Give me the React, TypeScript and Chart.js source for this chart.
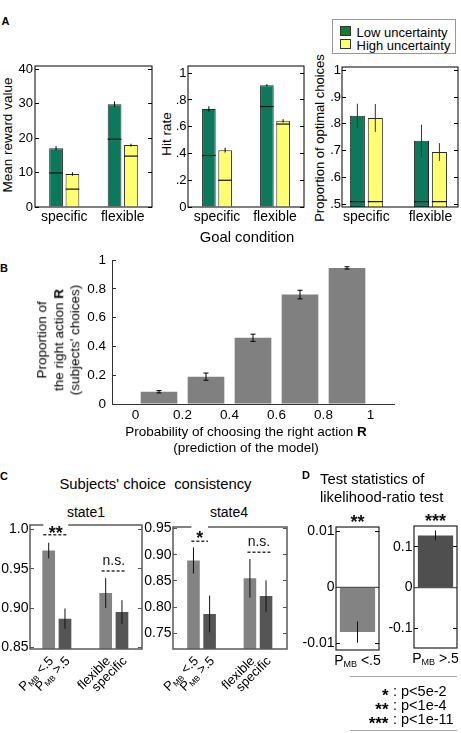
import React, { useEffect, useRef } from "react";
import { Chart, registerables } from "chart.js";

Chart.register(...registerables);

const FONT = '"Liberation Sans", Arial, Helvetica, sans-serif';

// ---------- A: performance by goal condition ----------
const goalConditions = ["specific", "flexible"];
const goalX = [1, 2];

const rewardLow = [17.1, 29.9];
const rewardHigh = [9.6, 18.0];
const rewardLowErr = [0.6, 0.8];
const rewardHighErr = [0.5, 0.4];
const rewardLowBase = [9.9, 19.7];
const rewardHighBase = [5.2, 14.8];
const rewardTicks = [0, 10, 20, 30, 40];
const rewardTickLabels = ["0", "10", "20", "30", "40"];

const hitLow = [0.733, 0.91];
const hitHigh = [0.425, 0.644];
const hitLowErr = [0.02, 0.008];
const hitHighErr = [0.018, 0.012];
const hitLowBase = [0.385, 0.751];
const hitHighBase = [0.2, 0.62];
const hitTicks = [0, 0.2, 0.4, 0.6, 0.8, 1];
const hitTickLabels = ["0", ".2", ".4", ".6", ".8", "1"];

const optimalLow = [0.83, 0.737];
const optimalHigh = [0.822, 0.695];
const optimalLowErr = [0.045, 0.06];
const optimalHighErr = [0.052, 0.033];
const optimalLowBase = [0.51, 0.51];
const optimalHighBase = [0.51, 0.51];
const optimalTicks = [0.5, 0.6, 0.7, 0.8, 0.9, 1];
const optimalTickLabels = [".5", ".6", ".7", ".8", ".9", "1"];

// ---------- B: choices vs. model prediction ----------
const modelProbBins = [0.1, 0.3, 0.5, 0.7, 0.9];
const rightChoice = [0.085, 0.19, 0.46, 0.76, 0.945];
const rightChoiceErr = [0.008, 0.025, 0.025, 0.03, 0.008];
const probTicks = [0, 0.2, 0.4, 0.6, 0.8, 1];
const probTickLabels = ["0", "0.2", "0.4", "0.6", "0.8", "1"];
const propTicks = [0, 0.2, 0.4, 0.6, 0.8, 1];
const propTickLabels = ["0", "0.2", "0.4", "0.6", "0.8", "1"];

// ---------- C: choice consistency ----------
type Seg = { t: string; sub?: boolean };
type Sig = { from: number; to: number; level: number; text: string; lift: number; bold?: boolean; clear?: boolean };

const consistencyX = [1, 2, 4.5, 5.5];
const pmbLow: Seg[] = [{ t: "P" }, { t: "MB", sub: true }, { t: " <.5" }];
const pmbHigh: Seg[] = [{ t: "P" }, { t: "MB", sub: true }, { t: " >.5" }];
const consistencyLabels: Seg[][] = [pmbLow, pmbHigh, [{ t: "flexible" }], [{ t: "specific" }]];

const state1 = [0.973, 0.8865, 0.919, 0.895];
const state1Err = [0.01, 0.013, 0.019, 0.015];
const state1Ticks = [0.85, 0.9, 0.95, 1.0];
const state1TickLabels = ["0.85", "0.90", "0.95", "1.0"];
const state1Sig: Sig[] = [
  { from: 0.67, to: 2.2, level: 0.993, text: "**", lift: -3.7, bold: true, clear: true },
  { from: 4.25, to: 5.75, level: 0.947, text: "n.s.", lift: 6 },
];

const state4 = [0.889, 0.787, 0.855, 0.821];
const state4Err = [0.025, 0.035, 0.037, 0.03];
const state4Ticks = [0.75, 0.8, 0.85, 0.9, 0.95];
const state4TickLabels = ["0.75", "0.80", "0.85", "0.90", "0.95"];
const state4Sig: Sig[] = [
  { from: 0.87, to: 1.9, level: 0.926, text: "*", lift: -3, bold: true, clear: true },
  { from: 4.35, to: 5.77, level: 0.905, text: "n.s.", lift: 6 },
];

// ---------- D: likelihood-ratio test ----------
const lrtLow = [-0.008];
const lrtLowErr = [0.0019];
const lrtLowTicks = [-0.01, 0, 0.01];
const lrtLowTickLabels = ["-0.01", "0", "0.01"];
const lrtHigh = [0.128];
const lrtHighErr = [0.012];
const lrtHighTicks = [-0.1, 0, 0.1];
const lrtHighTickLabels = ["-0.1", "0", "0.1"];

const sigLegend = [
  { stars: "*", text: ": p<5e-2" },
  { stars: "**", text: ": p<1e-4" },
  { stars: "***", text: ": p<1e-11" },
];

// ---------- styles ----------
const GREEN = "#0b7a5c";
const YELLOW = "#ffff70";
const LIGHT = "#838383";
const DARK = "#555555";
const consistencyColors = [LIGHT, DARK, LIGHT, DARK];
const TICK = 4;

type Box = { l: number; t: number; r: number; b: number };

// ---------- plugins ----------
const framePlugin = (color: string, width: number) => ({
  id: "frame",
  afterDraw(chart: any) {
    const { ctx, chartArea: a } = chart;
    ctx.save();
    ctx.strokeStyle = color;
    ctx.lineWidth = width;
    ctx.strokeRect(a.left, a.top, a.right - a.left, a.bottom - a.top);
    ctx.restore();
  },
});

const errorBarPlugin = (errs: number[][], color: string, width: number, cap: number) => ({
  id: "errorBars",
  afterDatasetsDraw(chart: any) {
    const { ctx } = chart;
    const ys = chart.scales.y;
    ctx.save();
    ctx.strokeStyle = color;
    ctx.lineWidth = width;
    errs.forEach((e, d) => {
      const meta = chart.getDatasetMeta(d);
      meta.data.forEach((bar: any, i: number) => {
        const v = meta.controller.getParsed(i).y;
        const top = ys.getPixelForValue(v + e[i]);
        const bot = ys.getPixelForValue(v - e[i]);
        ctx.beginPath();
        ctx.moveTo(bar.x, top);
        ctx.lineTo(bar.x, bot);
        if (cap > 0) {
          ctx.moveTo(bar.x - cap, top);
          ctx.lineTo(bar.x + cap, top);
          ctx.moveTo(bar.x - cap, bot);
          ctx.lineTo(bar.x + cap, bot);
        }
        ctx.stroke();
      });
    });
    ctx.restore();
  },
});

// horizontal reference level drawn across each bar
const baseLinePlugin = (levels: number[][]) => ({
  id: "baseLines",
  afterDatasetsDraw(chart: any) {
    const { ctx, chartArea } = chart;
    const ys = chart.scales.y;
    ctx.save();
    ctx.strokeStyle = "#111";
    ctx.lineWidth = 1.2;
    levels.forEach((lv, d) => {
      chart.getDatasetMeta(d).data.forEach((bar: any, i: number) => {
        const y = Math.min(ys.getPixelForValue(lv[i]), chartArea.bottom - 2);
        ctx.beginPath();
        ctx.moveTo(bar.x - bar.width / 2, y);
        ctx.lineTo(bar.x + bar.width / 2, y);
        ctx.stroke();
      });
    });
    ctx.restore();
  },
});

const zeroLinePlugin = (color: string) => ({
  id: "zeroLine",
  afterDatasetsDraw(chart: any) {
    const { ctx, chartArea: a } = chart;
    const y = chart.scales.y.getPixelForValue(0);
    ctx.save();
    ctx.strokeStyle = color;
    ctx.lineWidth = 1.2;
    ctx.beginPath();
    ctx.moveTo(a.left, y);
    ctx.lineTo(a.right, y);
    ctx.stroke();
    ctx.restore();
  },
});

// tick labels with subscripts, anchored under each bar
const richTickPlugin = (labels: Seg[][], size: number, angle: number, dx: number, dy: number, align: "right" | "center") => ({
  id: "richTicks",
  afterDraw(chart: any) {
    const { ctx, chartArea } = chart;
    const bars = chart.getDatasetMeta(0).data;
    const main = `${size}px ${FONT}`;
    const small = `${Math.round(size * 0.62)}px ${FONT}`;
    ctx.save();
    ctx.fillStyle = "#000";
    ctx.textBaseline = "middle";
    ctx.textAlign = "left";
    labels.forEach((segs, i) => {
      const widths = segs.map((s) => {
        ctx.font = s.sub ? small : main;
        return ctx.measureText(s.t).width;
      });
      const total = widths.reduce((a, b) => a + b, 0);
      ctx.save();
      ctx.translate(bars[i].x + dx, chartArea.bottom + dy);
      ctx.rotate(angle);
      let x = align === "right" ? -total : -total / 2;
      segs.forEach((s, k) => {
        ctx.font = s.sub ? small : main;
        ctx.fillText(s.t, x, s.sub ? size * 0.25 : 0);
        x += widths[k];
      });
      ctx.restore();
    });
    ctx.restore();
  },
});

const sigPlugin = (marks: Sig[]) => ({
  id: "sig",
  afterDraw(chart: any) {
    const { ctx, chartArea } = chart;
    const xs = chart.scales.x;
    const ys = chart.scales.y;
    ctx.save();
    for (const m of marks) {
      const x1 = xs.getPixelForValue(m.from);
      const x2 = xs.getPixelForValue(m.to);
      const y = ys.getPixelForValue(m.level);
      if (m.clear) {
        ctx.fillStyle = "#fff";
        ctx.fillRect(x1, chartArea.top - 2, x2 - x1, 4);
      }
      ctx.setLineDash([3, 2]);
      ctx.strokeStyle = "#333";
      ctx.lineWidth = 1.5;
      ctx.beginPath();
      ctx.moveTo(x1, y);
      ctx.lineTo(x2, y);
      ctx.stroke();
      ctx.setLineDash([]);
      ctx.fillStyle = "#111";
      ctx.font = m.bold ? `bold 18px ${FONT}` : `14px ${FONT}`;
      ctx.textAlign = "center";
      ctx.textBaseline = "alphabetic";
      ctx.fillText(m.text, (x1 + x2) / 2, y - m.lift);
    }
    ctx.restore();
  },
});

const topTextPlugin = (text: string) => ({
  id: "topText",
  afterDraw(chart: any) {
    const { ctx, chartArea } = chart;
    const bar = chart.getDatasetMeta(0).data[0];
    ctx.save();
    ctx.fillStyle = "#111";
    ctx.font = `bold 18px ${FONT}`;
    ctx.textAlign = "center";
    ctx.textBaseline = "alphabetic";
    ctx.fillText(text, bar.x, chartArea.top + 1);
    ctx.restore();
  },
});

// ---------- axes ----------
function valueAxis(min: number, max: number, ticks: number[], labels: string[], size: number, gap: number, tickColor = "#000") {
  return {
    type: "linear",
    position: "left",
    min,
    max,
    afterBuildTicks: (s: any) => {
      s.ticks = ticks.map((value) => ({ value }));
    },
    ticks: {
      autoSkip: false,
      color: "#000",
      padding: gap + TICK,
      font: { family: FONT, size },
      callback: (_v: any, i: number) => labels[i],
    },
    grid: { drawOnChartArea: false, drawTicks: true, tickLength: -TICK, tickColor, tickWidth: 1 },
    border: { display: false },
  };
}

function mirrorAxis(min: number, max: number, ticks: number[], tickColor = "#000") {
  return {
    type: "linear",
    position: "right",
    min,
    max,
    afterBuildTicks: (s: any) => {
      s.ticks = ticks.map((value) => ({ value }));
    },
    ticks: { display: false },
    grid: { drawOnChartArea: false, drawTicks: true, tickLength: -TICK, tickColor, tickWidth: 1 },
    border: { display: false },
  };
}

function indexAxis(min: number, max: number, xs: number[], labels: string[] | null, size: number, gap: number) {
  return {
    type: "linear",
    position: "bottom",
    min,
    max,
    offset: false,
    afterBuildTicks: (s: any) => {
      s.ticks = xs.map((value) => ({ value }));
    },
    ticks: {
      display: !!labels,
      autoSkip: false,
      maxRotation: 0,
      minRotation: 0,
      color: "#000",
      padding: gap,
      font: { family: FONT, size },
      callback: (_v: any, i: number) => (labels ? labels[i] : ""),
    },
    grid: { display: false, drawTicks: false, offset: false },
    border: { display: false },
  };
}

const common = () => ({
  responsive: false,
  animation: false,
  events: [],
  plugins: { legend: { display: false }, tooltip: { enabled: false } },
});

// ---------- chart builders ----------
function goalChart(
  low: number[], high: number[], lowErr: number[], highErr: number[], lowBase: number[], highBase: number[],
  yMin: number, yMax: number, yTicks: number[], yLabels: string[], xMin: number, xMax: number, errColor: string, gap: number
) {
  const bars = (vals: number[], color: string) => ({
    data: goalX.map((x, i) => ({ x, y: vals[i] })),
    backgroundColor: color,
    borderColor: "#2a2a2a",
    borderWidth: 1,
    categoryPercentage: 0.56,
    barPercentage: 0.84,
  });
  return {
    type: "bar",
    data: { datasets: [bars(low, GREEN), bars(high, YELLOW)] },
    options: {
      ...common(),
      scales: {
        x: indexAxis(xMin, xMax, goalX, goalConditions, 14, 2),
        y: valueAxis(yMin, yMax, yTicks, yLabels, 13, gap),
        y2: mirrorAxis(yMin, yMax, yTicks),
      },
    },
    plugins: [baseLinePlugin([lowBase, highBase]), errorBarPlugin([lowErr, highErr], errColor, 1, 0), framePlugin("#000", 1)],
  };
}

function choiceChart() {
  const x = indexAxis(-0.1, 1.1, probTicks, probTickLabels, 13.5, 3);
  const y = valueAxis(0, 1, propTicks, propTickLabels, 13.5, 6, "#333");
  return {
    type: "bar",
    data: {
      datasets: [
        {
          data: modelProbBins.map((b, i) => ({ x: b, y: rightChoice[i] })),
          backgroundColor: "#808080",
          categoryPercentage: 1,
          barPercentage: 0.78,
        },
      ],
    },
    options: {
      ...common(),
      scales: {
        x: { ...x, grid: { display: true, drawOnChartArea: false, drawTicks: false, offset: false }, border: { display: true, color: "#333", width: 1 } },
        y: { ...y, border: { display: true, color: "#333", width: 1 } },
      },
    },
    plugins: [errorBarPlugin([rightChoiceErr], "#000", 1, 2.5)],
  };
}

function consistencyChart(
  vals: number[], errs: number[], yMin: number, yMax: number, yTicks: number[], yLabels: string[],
  xMin: number, xMax: number, sig: Sig[]
) {
  return {
    type: "bar",
    data: {
      datasets: [
        {
          data: consistencyX.map((x, i) => ({ x, y: vals[i] })),
          backgroundColor: consistencyColors,
          categoryPercentage: 1,
          barPercentage: 0.78,
        },
      ],
    },
    options: {
      ...common(),
      scales: {
        x: indexAxis(xMin, xMax, consistencyX, null, 13, 0),
        y: valueAxis(yMin, yMax, yTicks, yLabels, 14, 1.5, "#555"),
        y2: mirrorAxis(yMin, yMax, yTicks, "#555"),
      },
    },
    plugins: [
      errorBarPlugin([errs], "#111", 1, 0),
      framePlugin("#5a5a5a", 1.5),
      sigPlugin(sig),
      richTickPlugin(consistencyLabels, 13, -Math.PI / 4, 3, 10, "right"),
    ],
  };
}

function lrtChart(
  vals: number[], errs: number[], yMin: number, yMax: number, yTicks: number[], yLabels: string[],
  color: string, label: Seg[], stars: string
) {
  return {
    type: "bar",
    data: {
      labels: [label.map((s) => s.t).join("")],
      datasets: [{ data: vals, backgroundColor: color, categoryPercentage: 1, barPercentage: 0.82 }],
    },
    options: {
      ...common(),
      scales: {
        x: { type: "category", ticks: { display: false }, grid: { display: false, drawTicks: false }, border: { display: false } },
        y: valueAxis(yMin, yMax, yTicks, yLabels, 14, 1.5),
        y2: mirrorAxis(yMin, yMax, yTicks),
      },
    },
    plugins: [
      zeroLinePlugin("#555"),
      errorBarPlugin([errs], "#111", 1, 0),
      framePlugin("#222", 1.2),
      richTickPlugin([label], 14, 0, 0, 11.5, "center"),
      topTextPlugin(stars),
    ],
  };
}

// ---------- components ----------
function Panel({ box, m, build }: { box: Box; m: Box; build: () => any }) {
  const ref = useRef<HTMLCanvasElement | null>(null);
  const w = box.r - box.l + m.l + m.r;
  const h = box.b - box.t + m.t + m.b;
  useEffect(() => {
    const cfg = build();
    const o = cfg.options;
    o.layout = { autoPadding: false, padding: { left: 0, top: m.t, right: m.r, bottom: 0 } };
    const fix = (fn: (s: any) => void) => (s: any) => {
      fn(s);
      s.paddingLeft = 0;
      s.paddingRight = 0;
      s.paddingTop = 0;
      s.paddingBottom = 0;
    };
    o.scales.x.afterFit = fix((s) => {
      s.height = m.b;
    });
    o.scales.y.afterFit = fix((s) => {
      s.width = m.l;
    });
    if (o.scales.y2) {
      o.scales.y2.afterFit = fix((s) => {
        s.width = 0;
      });
    }
    const chart = new Chart(ref.current as HTMLCanvasElement, cfg);
    return () => chart.destroy();
  }, []);
  return (
    <canvas
      ref={ref}
      width={w}
      height={h}
      style={{ position: "absolute", left: box.l - m.l, top: box.t - m.t, width: w, height: h }}
    />
  );
}

function Txt({
  x, y, size = 14, align = "center", rot = 0, bold = false, children, lh,
}: {
  x: number; y: number; size?: number; align?: "center" | "left" | "right"; rot?: number; bold?: boolean; children: any; lh?: number;
}) {
  const tx = align === "center" ? "-50%" : align === "right" ? "-100%" : "0";
  return (
    <div
      style={{
        position: "absolute",
        left: x,
        top: y,
        transform: `translate(${tx}, -50%) rotate(${rot}deg)`,
        fontFamily: FONT,
        fontSize: size,
        fontWeight: bold ? "bold" : "normal",
        lineHeight: lh ? `${lh}px` : 1,
        whiteSpace: "pre",
        textAlign: "center",
        color: "#000",
      }}
    >
      {children}
    </div>
  );
}

export default function App() {
  return (
    <div style={{ position: "absolute", left: 0, top: 0, width: 461, height: 733, background: "#fff", overflow: "hidden" }}>
      {/* A */}
      <Txt x={5.5} y={21} size={11} bold>A</Txt>
      <Txt x={8} y={135} size={13.5} rot={-90}>Mean reward value</Txt>
      <Panel
        box={{ l: 35, t: 66, r: 152, b: 207 }}
        m={{ l: 35, t: 4, r: 4, b: 22 }}
        build={() => goalChart(rewardLow, rewardHigh, rewardLowErr, rewardHighErr, rewardLowBase, rewardHighBase, 0, 41, rewardTicks, rewardTickLabels, 0.5, 2.5, "#000", 2)}
      />
      <Txt x={167} y={134} size={13.5} rot={-90}>Hit rate</Txt>
      <Panel
        box={{ l: 188, t: 66, r: 304, b: 207 }}
        m={{ l: 30, t: 4, r: 4, b: 22 }}
        build={() => goalChart(hitLow, hitHigh, hitLowErr, hitHighErr, hitLowBase, hitHighBase, 0, 1.054, hitTicks, hitTickLabels, 0.5, 2.5, "#000", 1.5)}
      />
      <Txt x={318.5} y={138} size={13} rot={-90}>Proportion of optimal choices</Txt>
      <Panel
        box={{ l: 342, t: 67, r: 458, b: 207 }}
        m={{ l: 30, t: 4, r: 3, b: 22 }}
        build={() => goalChart(optimalLow, optimalHigh, optimalLowErr, optimalHighErr, optimalLowBase, optimalHighBase, 0.49, 1.012, optimalTicks, optimalTickLabels, 0.62, 2.43, "#333", 1)}
      />
      <Txt x={247} y={237} size={14.8}>Goal condition</Txt>

      <div style={{ position: "absolute", left: 332, top: 19, width: 124, height: 35, border: "1px solid #999", boxSizing: "border-box" }} />
      <div style={{ position: "absolute", left: 340, top: 26, width: 11, height: 10, background: "#107c34", border: "1px solid #333", boxSizing: "border-box" }} />
      <Txt x={356.5} y={31.5} size={13} align="left">Low uncertainty</Txt>
      <div style={{ position: "absolute", left: 340, top: 39, width: 11, height: 10, background: YELLOW, border: "1px solid #333", boxSizing: "border-box" }} />
      <Txt x={356.5} y={44.5} size={13} align="left">High uncertainty</Txt>

      {/* B */}
      <Txt x={4} y={267.5} size={11} bold>B</Txt>
      <Panel box={{ l: 112, t: 260, r: 394, b: 404 }} m={{ l: 45, t: 10, r: 8, b: 22 }} build={choiceChart} />
      <Txt x={59} y={340} size={13.5} rot={-90} lh={16.5}>
        Proportion of{"\n"}the right action <b>R</b>{"\n"}(subjects' choices)
      </Txt>
      <Txt x={246} y={431.5} size={13.5}>
        Probability of choosing the right action <b>R</b>
      </Txt>
      <Txt x={246} y={447.5} size={13.5}>(prediction of the model)</Txt>

      {/* C */}
      <Txt x={4} y={476} size={11} bold>C</Txt>
      <Txt x={155.5} y={483.5} size={14.8}>Subjects' choice  consistency</Txt>
      <Txt x={86} y={511.5} size={14}>state1</Txt>
      <Txt x={229} y={511.5} size={14}>state4</Txt>
      <Panel
        box={{ l: 30, t: 525, r: 142, b: 649 }}
        m={{ l: 30, t: 14, r: 3, b: 55 }}
        build={() => consistencyChart(state1, state1Err, 0.848, 1.0055, state1Ticks, state1TickLabels, -0.148, 6.73, state1Sig)}
      />
      <Panel
        box={{ l: 173, t: 527, r: 287, b: 649 }}
        m={{ l: 35, t: 14, r: 3, b: 55 }}
        build={() => consistencyChart(state4, state4Err, 0.72, 0.953, state4Ticks, state4TickLabels, -0.27, 6.8, state4Sig)}
      />

      {/* D */}
      <Txt x={306} y={475} size={11} bold>D</Txt>
      <Txt x={320} y={478.5} size={14.8} align="left">Test statistics of</Txt>
      <Txt x={320} y={497} size={14.8} align="left">likelihood-ratio test</Txt>
      <Panel
        box={{ l: 336, t: 527, r: 379, b: 650 }}
        m={{ l: 36, t: 16, r: 3, b: 20 }}
        build={() => lrtChart(lrtLow, lrtLowErr, -0.0112, 0.0108, lrtLowTicks, lrtLowTickLabels, LIGHT, pmbLow, "**")}
      />
      <Panel
        box={{ l: 414, t: 526, r: 457, b: 648 }}
        m={{ l: 30, t: 16, r: 3, b: 22 }}
        build={() => lrtChart(lrtHigh, lrtHighErr, -0.148, 0.151, lrtHighTicks, lrtHighTickLabels, "#4f4f4f", pmbHigh, "***")}
      />

      <div style={{ position: "absolute", left: 350, top: 676, width: 107, borderTop: "1px solid #aaa" }} />
      {sigLegend.map((row, i) => (
        <React.Fragment key={row.text}>
          <Txt x={388.5} y={691 + i * 14 + 4} size={17} bold align="right">{row.stars}</Txt>
          <Txt x={393} y={691 + i * 14} size={14.5} align="left">{row.text}</Txt>
        </React.Fragment>
      ))}
      <div style={{ position: "absolute", left: 350, top: 730, width: 107, borderTop: "1px solid #aaa" }} />
    </div>
  );
}
